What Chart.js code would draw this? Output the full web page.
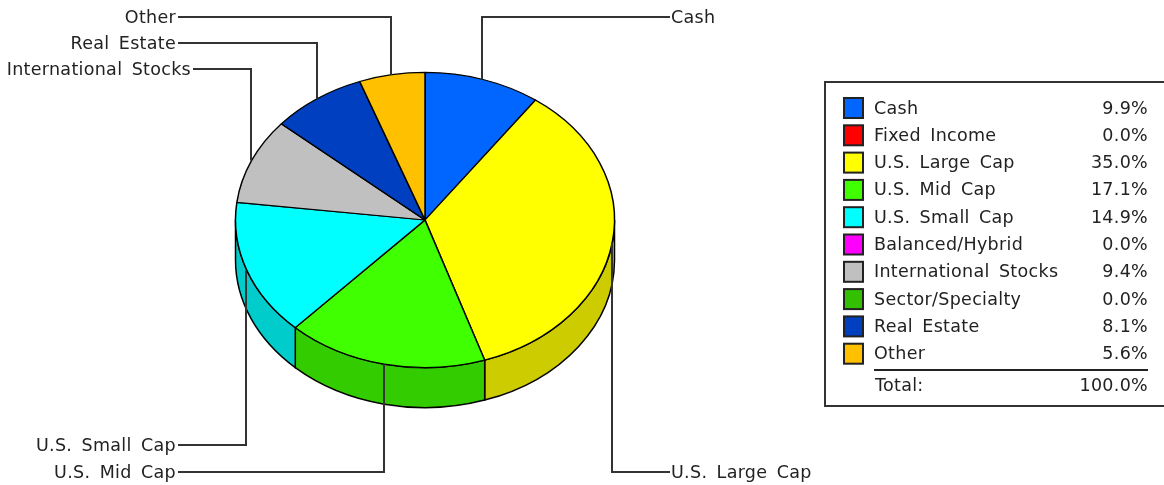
<!DOCTYPE html>
<html>
<head>
<meta charset="utf-8">
<style>
  html, body { margin: 0; padding: 0; background: #fff; overflow: hidden; }
  canvas { display: block; }
</style>
</head>
<body>
<canvas id="allocChart" width="1164" height="485"></canvas>
<script src="https://cdn.jsdelivr.net/npm/chart.js@4/dist/chart.umd.min.js"></script>
<script>
const categories = ["Cash", "Fixed Income", "U.S. Large Cap", "U.S. Mid Cap", "U.S. Small Cap",
    "Balanced/Hybrid", "International Stocks", "Sector/Specialty", "Real Estate", "Other"];
const percentages = [9.9, 0.0, 35.0, 17.1, 14.9, 0.0, 9.4, 0.0, 8.1, 5.6];
const sliceColors = ["#0066ff", "#ff0000", "#ffff00", "#40ff00", "#00ffff",
    "#ff00ff", "#c0c0c0", "#33c000", "#0040c0", "#ffc000"];
const wallColors = ["#0052cc", "#cc0000", "#cccc00", "#33cc00", "#00cccc",
    "#cc00cc", "#999999", "#299900", "#003399", "#cc9a00"];
const totalLabel = "Total:";
const totalValue = "100.0%";

// where each callout text sits, the line start comes from the slice itself
const callouts = {
    "Cash": { x: 671, y: 17, align: "left" },
    "U.S. Large Cap": { x: 671, y: 472, align: "left" },
    "U.S. Mid Cap": { x: 176, y: 472, align: "right" },
    "U.S. Small Cap": { x: 176, y: 445, align: "right" },
    "International Stocks": { x: 191, y: 69, align: "right" },
    "Real Estate": { x: 176, y: 43, align: "right" },
    "Other": { x: 176, y: 17, align: "right" }
};

const squash = 148 / 190;
const depth = 40;
const textColor = "#222222";
const lineColor = "#333333";
const font = "17.5px 'DejaVu Sans'";

function setText(ctx, align) {
    ctx.font = font;
    ctx.fillStyle = textColor;
    ctx.textAlign = align;
    ctx.textBaseline = "middle";
    ctx.letterSpacing = "0.3px";
    ctx.wordSpacing = "3.5px";
}

const piePlugin = {
    id: "pie3d",
    beforeDatasetsDraw(chart) {
        const ctx = chart.ctx;
        const arcs = chart.getDatasetMeta(0).data;
        const cx = arcs[0].x, cy = arcs[0].y;
        const rx = arcs[0].outerRadius, ry = rx * squash;
        ctx.save();
        // side wall, only the front half of the pie shows it
        arcs.forEach((arc, i) => {
            const a = Math.max(arc.startAngle, 0);
            const b = Math.min(arc.endAngle, Math.PI);
            if (b <= a) return;
            ctx.beginPath();
            ctx.ellipse(cx, cy, rx, ry, 0, a, b);
            ctx.ellipse(cx, cy + depth, rx, ry, 0, b, a, true);
            ctx.closePath();
            ctx.fillStyle = wallColors[i];
            ctx.fill();
            ctx.lineWidth = 1.5;
            ctx.strokeStyle = "#000";
            ctx.stroke();
        });
        ctx.translate(0, cy);
        ctx.scale(1, squash);
        ctx.translate(0, -cy);
    },
    afterDatasetsDraw(chart) {
        const ctx = chart.ctx;
        ctx.restore();
        drawCallouts(chart);
        drawLegend(ctx);
    }
};

function drawCallouts(chart) {
    const ctx = chart.ctx;
    const arcs = chart.getDatasetMeta(0).data;
    categories.forEach((name, i) => {
        const c = callouts[name];
        if (!c) return;
        const arc = arcs[i];
        const mid = (arc.startAngle + arc.endAngle) / 2;
        const px = Math.floor(arc.x + arc.outerRadius * Math.cos(mid));
        const py = arc.y + arc.outerRadius * squash * Math.sin(mid);
        const endX = c.align === "left" ? c.x - 1 : c.x + 2;
        ctx.beginPath();
        ctx.moveTo(px, py);
        ctx.lineTo(px, c.y);
        ctx.lineTo(endX, c.y);
        ctx.lineWidth = 2;
        ctx.strokeStyle = lineColor;
        ctx.stroke();
        setText(ctx, c.align);
        ctx.fillText(name, c.x, c.y + 1);
    });
}

function drawLegend(ctx) {
    const rowH = 27.3;
    ctx.lineWidth = 2;
    ctx.strokeStyle = lineColor;
    ctx.strokeRect(825, 82, 345, 324);
    categories.forEach((name, i) => {
        const y = 108 + i * rowH;
        ctx.fillStyle = sliceColors[i];
        ctx.fillRect(844, y - 10, 19, 20);
        ctx.strokeStyle = "#222";
        ctx.strokeRect(844, y - 10, 19, 20);
        setText(ctx, "left");
        ctx.fillText(name, 874, y + 1);
        setText(ctx, "right");
        ctx.fillText(percentages[i].toFixed(1) + "%", 1148, y + 1);
    });
    ctx.beginPath();
    ctx.moveTo(874, 370);
    ctx.lineTo(1148, 370);
    ctx.strokeStyle = "#222";
    ctx.stroke();
    setText(ctx, "left");
    ctx.fillText(totalLabel, 875, 386);
    setText(ctx, "right");
    ctx.fillText(totalValue, 1148, 386);
}

new Chart(document.getElementById("allocChart"), {
    type: "pie",
    data: {
        labels: categories,
        datasets: [{
            data: percentages,
            backgroundColor: sliceColors,
            borderColor: "#000",
            borderWidth: 1.5,
            radius: 189.5
        }]
    },
    options: {
        responsive: false,
        animation: false,
        events: [],
        layout: { padding: { left: 235, right: 549, top: 30, bottom: 75 } },
        plugins: { legend: { display: false }, tooltip: { enabled: false } }
    },
    plugins: [piePlugin]
});
</script>
</body>
</html>
